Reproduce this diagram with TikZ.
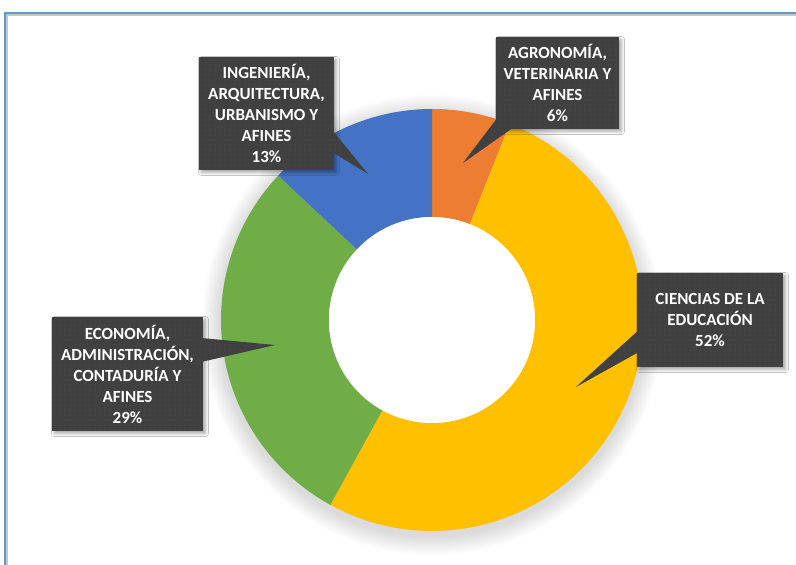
\documentclass[tikz,border=0pt]{standalone}
\usepackage{fontspec}
\setmainfont{Carlito}
\usetikzlibrary{calc,shadows.blur,patterns.meta}
\definecolor{cOrange}{HTML}{ED7D31}
\definecolor{cYellow}{HTML}{FFC000}
\definecolor{cGreen}{HTML}{70AD47}
\definecolor{cBlue}{HTML}{4472C4}
\definecolor{boxc}{HTML}{404040}
\definecolor{dotc}{HTML}{4E4E4E}
\definecolor{framec}{HTML}{5B9BD5}
\pgfdeclareradialshading{holeshade}{\pgfpoint{0bp}{0bp}}{color(0bp)=(white); color(41bp)=(white); color(50bp)=(black!13)}
\newcommand\donutslice[3]{\fill[#3] ($(c)+(#1:211)$) arc[start angle=#1, end angle=#2, radius=211] -- ($(c)+(#2:103)$) arc[start angle=#2, end angle=#1, radius=103] -- cycle;}
\begin{document}
\begin{tikzpicture}[x=1pt,y=1pt,
  lbl/.style={fill=boxc, text=white, font=\fontsize{17}{21}\selectfont\bfseries, align=center, inner sep=0pt,
    blur shadow={shadow xshift=2.5pt, shadow yshift=-2.5pt, shadow blur radius=3pt, shadow opacity=35},
    postaction={pattern={Dots[distance=5pt,radius=0.55pt]}, pattern color=dotc}},
  ptr/.style={fill=boxc, postaction={pattern={Dots[distance=5pt,radius=0.55pt]}, pattern color=dotc}}]
\useasboundingbox (0,0) rectangle (796,565);
\fill[white] (0,0) rectangle (796,565);
% frame
\draw[black!22, line width=1.6pt] (7.2,0) -- (7.2,550.2) -- (796,550.2);
\draw[framec, line width=2pt] (5,0) -- (5,552) -- (796,552);
% donut
\coordinate (c) at (432,245);
\foreach \i in {1,...,12} {\fill[black, opacity=0.013] ($(c)+(0,-5)$) circle ({211+\i*1.6});}
\donutslice{90}{68.4}{cOrange}
\donutslice{68.4}{-118.8}{cYellow}
\donutslice{-118.8}{-223.2}{cGreen}
\donutslice{-223.2}{-270}{cBlue}
\shade[shading=holeshade] (c) circle (103);
% labels
\node[lbl, minimum width=135pt, minimum height=113pt] (b1) at (266.5,451.5) {INGENIERÍA,\\ARQUITECTURA,\\URBANISMO Y\\AFINES\\13\%};
\node[lbl, minimum width=123pt, minimum height=92pt] (b2) at (557.5,482) {AGRONOMÍA,\\VETERINARIA Y\\AFINES\\6\%};
\node[lbl, minimum width=151pt, minimum height=114pt] (b3) at (127.5,191) {ECONOMÍA,\\ADMINISTRACIÓN,\\CONTADURÍA Y\\AFINES\\29\%};
\node[lbl, minimum width=146pt, minimum height=94pt] (b4) at (710,245) {CIENCIAS DE LA\\EDUCACIÓN\\52\%};
% pointers
\coordinate (t1) at (368,391);
\coordinate (t2) at (463,402);
\coordinate (t3) at (275,220);
\coordinate (t4) at (576,178);
\fill[ptr] ($(b1.east)+(-2,-16.5)$) -- (t1) -- ($(b1.east)+(-2,-38.5)$) -- cycle;
\fill[ptr] ($(b2.south west)+(2,12)$) -- (t2) -- ($(b2.south west)+(18,2)$) -- ($(b2.south west)+(2,2)$) -- cycle;
\fill[ptr] ($(b3.east)+(-2,36)$) -- (t3) -- ($(b3.east)+(-2,12)$) -- cycle;
\fill[ptr] ($(b4.west)+(2,-10)$) -- (t4) -- ($(b4.west)+(2,-32)$) -- cycle;
\end{tikzpicture}
\end{document}
